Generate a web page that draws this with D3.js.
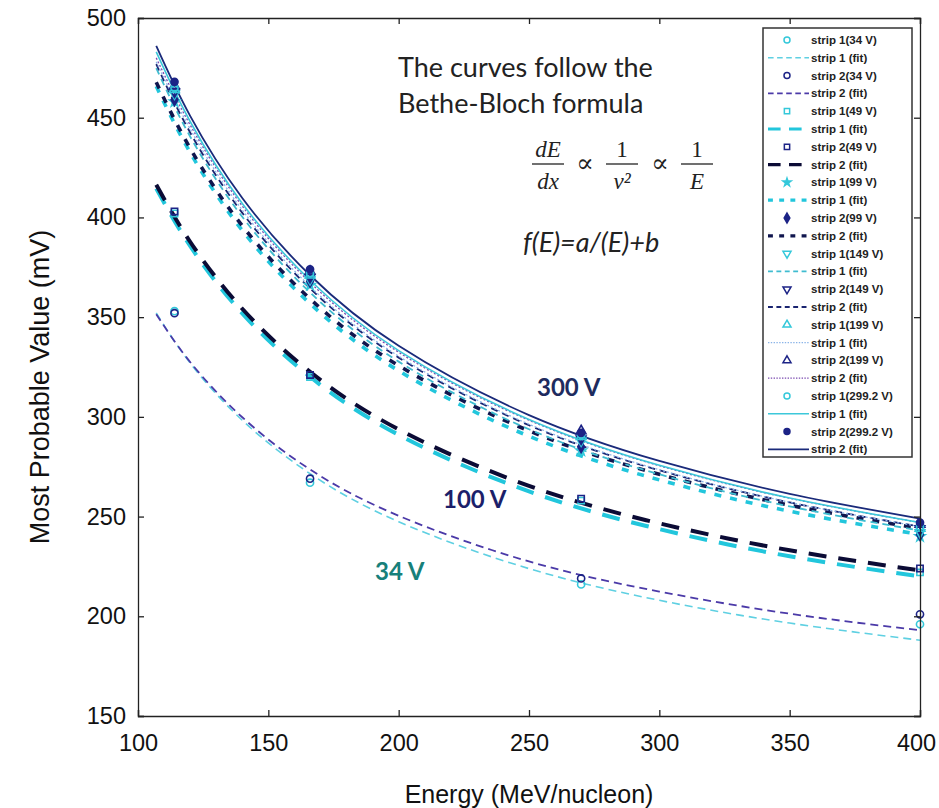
<!DOCTYPE html>
<html>
<head>
<meta charset="utf-8">
<script src="https://cdn.jsdelivr.net/npm/d3@7"></script>
<style>
  body { margin: 0; background: #fff; }
  svg { display: block; }
</style>
</head>
<body>
<div id="okvir"></div>
<script>
// 1. Podaci (ocitano sa slike)
const energije = [114, 166, 270, 400]
const fitEnergije = [107, 120, 140, 166, 200, 250, 300, 350, 400]

const strip1_34V = [353, 267, 216, 196]
const strip2_34V = [352, 269, 219, 201]
const strip1_49V = [402, 320, 258, 222]
const strip2_49V = [403, 321, 259, 224]
const strip1_99V = [458, 366, 283, 240]
const strip2_99V = [459, 368, 285, 241]
const strip1_149V = [462, 369, 288, 242]
const strip2_149V = [463, 370, 289, 244]
const strip1_199V = [464, 371, 290, 244]
const strip2_199V = [466, 373, 293, 246]
const strip1_299V = [465, 372, 291, 245]
const strip2_299V = [468, 374, 292, 247]

const fit1_34V = [352.1, 327.0, 298.3, 271.5, 247.4, 223.9, 208.0, 196.6, 188]
const fit2_34V = [351.5, 327.5, 299.8, 273.6, 250.4, 227.5, 212.4, 201.3, 193]
const fit1_49V = [414.5, 385.7, 351.9, 320.1, 291.0, 262.6, 243.7, 230.1, 220]
const fit2_49V = [416.4, 387.8, 354.2, 322.6, 293.7, 265.4, 246.6, 233.1, 223]
const fit1_99V = [465.8, 432.6, 393.5, 356.8, 323.1, 290.3, 268.4, 252.7, 241]
const fit2_99V = [467.8, 434.7, 395.8, 359.2, 325.7, 293.0, 271.2, 255.7, 244]
const fit1_149V = [474.9, 440.6, 400.3, 362.4, 327.7, 293.8, 271.2, 255.1, 243]
const fit2_149V = [476.9, 442.6, 402.3, 364.4, 329.7, 295.8, 273.2, 257.1, 245]
const fit1_199V = [478.0, 444.4, 403.7, 365.4, 330.4, 296.3, 273.5, 257.2, 245]
const fit2_199V = [480.0, 446.4, 405.7, 367.4, 332.4, 298.3, 275.5, 259.2, 247]
const fit1_299V = [483.0, 448.1, 407.0, 368.5, 333.2, 298.7, 275.7, 259.3, 247]
const fit2_299V = [486.0, 450.9, 409.7, 371.0, 335.6, 300.9, 277.9, 261.4, 249]

const xTicks = [100, 150, 200, 250, 300, 350, 400]
const yTicks = [150, 200, 250, 300, 350, 400, 450, 500]

const pointLabels = ["strip 1(34 V)", "strip 2(34 V)", "strip 1(49 V)", "strip 2(49 V)",
  "strip 1(99 V)", "strip 2(99 V)", "strip 1(149 V)", "strip 2(149 V)",
  "strip 1(199 V)", "strip 2(199 V)", "strip 1(299.2 V)", "strip 2(299.2 V)"]
const fitLabels = ["strip 1 (fit)", "strip 2 (fit)"]

// izgled serija (markeri i linije)
const cyan = "#34c8da"
const navy = "#1c2386"
const serije = [
  { pts: strip1_34V, fit: fit1_34V, color: cyan, sym: d3.symbolCircle, fill: false, line: "#5fd0e2", w: 1.6, dash: "8,5" },
  { pts: strip2_34V, fit: fit2_34V, color: navy, sym: d3.symbolCircle, fill: false, line: "#4b3aa8", w: 1.8, dash: "8,5" },
  { pts: strip1_49V, fit: fit1_49V, color: cyan, sym: d3.symbolSquare, fill: false, line: "#22c6dc", w: 4, dash: "18,12" },
  { pts: strip2_49V, fit: fit2_49V, color: navy, sym: d3.symbolSquare, fill: false, line: "#0b0b35", w: 4, dash: "18,12" },
  { pts: strip1_99V, fit: fit1_99V, color: cyan, sym: d3.symbolStar, fill: true, line: "#22c6dc", w: 3.6, dash: "7,9" },
  { pts: strip2_99V, fit: fit2_99V, color: navy, sym: d3.symbolDiamond, fill: true, line: "#10164e", w: 3.6, dash: "7,9" },
  { pts: strip1_149V, fit: fit1_149V, color: cyan, sym: "down", fill: false, line: "#3fbcd0", w: 1.8, dash: "7,5" },
  { pts: strip2_149V, fit: fit2_149V, color: navy, sym: "down", fill: false, line: "#1a2470", w: 1.8, dash: "7,5" },
  { pts: strip1_199V, fit: fit1_199V, color: cyan, sym: d3.symbolTriangle, fill: false, line: "#8ab4e8", w: 1.3, dash: "2,2" },
  { pts: strip2_199V, fit: fit2_199V, color: navy, sym: d3.symbolTriangle, fill: false, line: "#7a4ab0", w: 1.3, dash: "2,2" },
  { pts: strip1_299V, fit: fit1_299V, color: cyan, sym: d3.symbolCircle, fill: false, line: "#3cc8da", w: 1.6, dash: null },
  { pts: strip2_299V, fit: fit2_299V, color: navy, sym: d3.symbolCircle, fill: true, line: "#1a2a7a", w: 1.8, dash: null },
]

// 2. Dimenzije
const dimenzije = { sirina: 939, visina: 808, left: 138, right: 920, top: 18, bottom: 716 }

const okvir = d3.select("#okvir").append("svg")
  .attr("width", dimenzije.sirina)
  .attr("height", dimenzije.visina)
  .style("font-family", "'Liberation Sans', Arial, sans-serif")

// 3. Razmjeri
const xSkala = d3.scaleLinear().domain([100, 400]).range([dimenzije.left, dimenzije.right])
const ySkala = d3.scaleLinear().domain([150, 500]).range([dimenzije.bottom, dimenzije.top])

function markerPath(sym, size) {
  if (sym === "down") {
    return d3.symbol(d3.symbolTriangle, size)()
  }
  return d3.symbol(sym, size)()
}

// 4. Fit krivulje
const linija = d3.line()
  .x((d, i) => xSkala(fitEnergije[i]))
  .y(d => ySkala(d))
  .curve(d3.curveNatural)

const krivulje = okvir.append("g")
serije.forEach(s => {
  krivulje.append("path")
    .attr("d", linija(s.fit))
    .attr("fill", "none")
    .attr("stroke", s.line)
    .attr("stroke-width", s.w)
    .attr("stroke-dasharray", s.dash)
})

// 5. Tocke
const tocke = okvir.append("g")
serije.forEach(s => {
  tocke.selectAll(null)
    .data(s.pts)
    .join("path")
    .attr("d", markerPath(s.sym, s.sym === d3.symbolStar ? 30 : 40))
    .attr("transform", (d, i) => `translate(${xSkala(energije[i])},${ySkala(d)})` + (s.sym === "down" ? " rotate(180)" : ""))
    .attr("fill", s.fill ? s.color : "none")
    .attr("stroke", s.color)
    .attr("stroke-width", 1.6)
})

// 6. Osi
const osi = okvir.append("g")
const xOs = osi.append("g")
  .attr("transform", `translate(0,${dimenzije.bottom})`)
  .call(d3.axisBottom(xSkala).tickValues(xTicks).tickSize(-6).tickPadding(18))
osi.append("g")
  .attr("transform", `translate(${dimenzije.left},0)`)
  .call(d3.axisLeft(ySkala).tickValues(yTicks).tickSize(-6).tickPadding(12))
osi.append("g")
  .attr("transform", `translate(0,${dimenzije.top})`)
  .call(d3.axisTop(xSkala).tickValues(xTicks).tickSize(-6).tickFormat(""))
osi.append("g")
  .attr("transform", `translate(${dimenzije.right},0)`)
  .call(d3.axisRight(ySkala).tickValues(yTicks).tickSize(-6).tickFormat(""))
osi.selectAll("text").attr("fill", "#111").attr("font-family", "'Liberation Sans', Arial, sans-serif").attr("font-size", 23.5)
osi.selectAll(".domain, line").attr("stroke", "#222").attr("stroke-width", 1.3)
// zadnja oznaka (400) malo ulijevo da stane u sliku
xOs.selectAll(".tick text").filter(d => d === 400).attr("dx", -4)

okvir.append("text")
  .attr("x", (dimenzije.left + dimenzije.right) / 2)
  .attr("y", 803)
  .attr("text-anchor", "middle")
  .attr("font-size", 25)
  .attr("fill", "#111")
  .text("Energy (MeV/nucleon)")

okvir.append("text")
  .attr("transform", `translate(49,${(dimenzije.top + dimenzije.bottom) / 2 + 20}) rotate(-90)`)
  .attr("text-anchor", "middle")
  .attr("font-size", 27)
  .attr("fill", "#111")
  .text("Most Probable Value (mV)")

// 7. Anotacije
const note = okvir.append("g").attr("font-family", "Lato, 'Open Sans', sans-serif").attr("fill", "#222")
note.append("text").attr("x", 398).attr("y", 77).attr("font-size", 27).text("The curves follow the")
note.append("text").attr("x", 398).attr("y", 113).attr("font-size", 27).text("Bethe-Bloch formula")

const formula = note.append("g").attr("font-family", "'Liberation Serif', 'DejaVu Serif', serif").attr("font-size", 23).attr("text-anchor", "middle")
const frakcije = [
  { x: 548, num: "dE", den: "dx", italicNum: true },
  { x: 622, num: "1", den: "v²", italicNum: false },
  { x: 697, num: "1", den: "E", italicNum: false },
]
frakcije.forEach(f => {
  formula.append("text").attr("x", f.x).attr("y", 157).attr("font-style", f.italicNum ? "italic" : "normal").text(f.num)
  formula.append("line").attr("x1", f.x - 16).attr("x2", f.x + 16).attr("y1", 164).attr("y2", 164).attr("stroke", "#222").attr("stroke-width", 1.3)
  formula.append("text").attr("x", f.x).attr("y", 189).attr("font-style", "italic").text(f.den)
})
formula.append("text").attr("x", 585).attr("y", 172).attr("font-size", 26).text("∝")
formula.append("text").attr("x", 660).attr("y", 172).attr("font-size", 26).text("∝")

note.append("text").attr("x", 523).attr("y", 252).attr("font-size", 27).attr("font-style", "italic").text("f(E)=a/(E)+b")

const naljepnice = [
  { x: 537, y: 396, t: "300 V", c: "#1e2b5e" },
  { x: 443, y: 508, t: "100 V", c: "#1c1f6a" },
  { x: 375, y: 580, t: "34 V", c: "#17807a" },
]
okvir.append("g").selectAll("text").data(naljepnice).join("text")
  .attr("x", d => d.x).attr("y", d => d.y)
  .attr("font-family", "Lato, 'Open Sans', sans-serif")
  .attr("font-weight", "bold").attr("font-size", 24)
  .attr("fill", d => d.c)
  .text(d => d.t)

// 8. Legenda
const legenda = okvir.append("g")
legenda.append("rect")
  .attr("x", 763).attr("y", 28).attr("width", 149).attr("height", 429)
  .attr("fill", "#fff").attr("stroke", "#333").attr("stroke-width", 1.5)

const stavke = []
serije.forEach((s, i) => {
  stavke.push({ tip: "tocka", s: s, label: pointLabels[i] })
  stavke.push({ tip: "linija", s: s, label: fitLabels[i % 2] })
})

stavke.forEach((d, i) => {
  const y = 40 + i * 17.8
  const g = legenda.append("g")
  if (d.tip === "tocka") {
    g.append("path")
      .attr("d", markerPath(d.s.sym, d.s.sym === d3.symbolStar ? 20 : 28))
      .attr("transform", `translate(787,${y})` + (d.s.sym === "down" ? " rotate(180)" : ""))
      .attr("fill", d.s.fill ? d.s.color : "none")
      .attr("stroke", d.s.color)
      .attr("stroke-width", 1.5)
  } else {
    g.append("line")
      .attr("x1", 768).attr("x2", 809).attr("y1", y).attr("y2", y)
      .attr("stroke", d.s.line)
      .attr("stroke-width", Math.min(d.s.w, 3.2))
      .attr("stroke-dasharray", d.s.dash ? d.s.dash.split(",").map(v => +v * 0.7).join(",") : null)
  }
  g.append("text")
    .attr("x", 811).attr("y", y + 4)
    .attr("font-size", 11.5).attr("font-weight", "bold")
    .attr("fill", "#222")
    .text(d.label)
})
</script>
</body>
</html>
